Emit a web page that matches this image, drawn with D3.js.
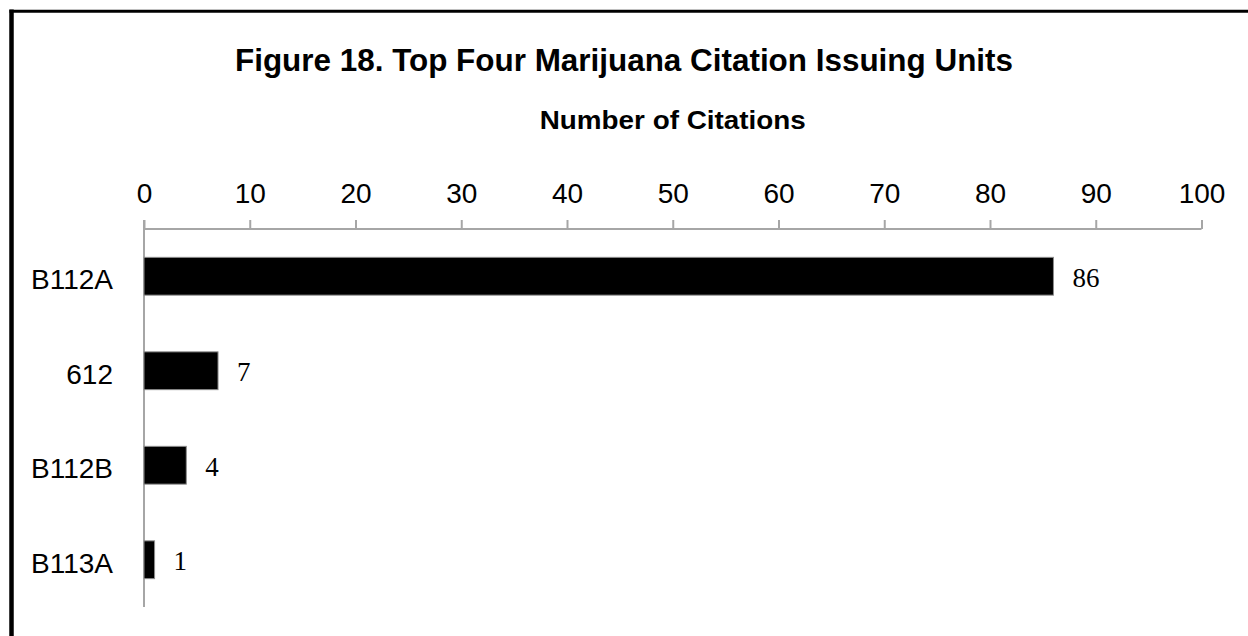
<!DOCTYPE html>
<html>
<head>
<meta charset="utf-8">
<script src="https://cdn.jsdelivr.net/npm/d3@7"></script>
<style>
  html, body { margin: 0; padding: 0; background: #fff; }
  svg { display: block; }
</style>
</head>
<body>
<svg id="chart" width="1248" height="636"></svg>
<script>
const units = ["B112A", "612", "B112B", "B113A"];
const citations = [86, 7, 4, 1];
const tickValues = [0, 10, 20, 30, 40, 50, 60, 70, 80, 90, 100];
const titleText = "Figure 18. Top Four Marijuana Citation Issuing Units";
const axisTitleText = "Number of Citations";

const W = 1248, H = 636;
const margin = { left: 144, right: 46.5, top: 229, bottom: 29 };
const sans = "'Liberation Sans', Arial, sans-serif";
const serif = "'Liberation Serif', 'Times New Roman', serif";

const svg = d3.select("#chart");
svg.append("rect").attr("width", W).attr("height", H).attr("fill", "#fff");

// frame (left and top edges)
svg.append("line").attr("x1", 11.5).attr("x2", 11.5).attr("y1", 9.5).attr("y2", H)
  .attr("stroke", "#000").attr("stroke-width", 4.5);
svg.append("line").attr("x1", 9.5).attr("x2", W).attr("y1", 11.3).attr("y2", 11.3)
  .attr("stroke", "#000").attr("stroke-width", 3);

const x = d3.scaleLinear().domain([0, 100]).range([margin.left, W - margin.right]);
const y = d3.scaleBand().domain(units).range([margin.top, H - margin.bottom]).paddingInner(0.6).paddingOuter(0.3);

// title
svg.append("text").attr("x", 624).attr("y", 71).attr("text-anchor", "middle")
  .attr("font-family", sans).attr("font-weight", "bold").attr("font-size", 31).attr("fill", "#000")
  .attr("textLength", 778).attr("lengthAdjust", "spacingAndGlyphs")
  .text(titleText);

// axis title
svg.append("text").attr("x", (x(0) + x(100)) / 2).attr("y", 129).attr("text-anchor", "middle")
  .attr("font-family", sans).attr("font-weight", "bold").attr("font-size", 25).attr("fill", "#000")
  .attr("textLength", 266).attr("lengthAdjust", "spacingAndGlyphs")
  .text(axisTitleText);

// top axis
const xAxis = d3.axisTop(x).tickValues(tickValues).tickSize(9).tickPadding(17).tickFormat(d3.format("d"));
const gx = svg.append("g").attr("transform", `translate(0,${margin.top})`).call(xAxis);
gx.select(".domain").attr("stroke", "#a6a6a6").attr("stroke-width", 2).attr("d", `M${x(0)},0H${x(100)}`);
gx.selectAll(".tick line").attr("stroke", "#a6a6a6").attr("stroke-width", 2);
gx.selectAll(".tick text").attr("font-family", sans).attr("font-size", 28).attr("fill", "#000");

// left axis (vertical line only)
const yAxis = d3.axisLeft(y).tickSize(0).tickPadding(31);
const gy = svg.append("g").attr("transform", `translate(${margin.left},0)`).call(yAxis);
gy.select(".domain").attr("stroke", "#a6a6a6").attr("stroke-width", 2)
  .attr("d", `M0,${margin.top - 9}V${H - margin.bottom}`);
gy.selectAll(".tick text").attr("font-family", sans).attr("font-size", 28).attr("fill", "#000").attr("dy", "0.47em");

// bars
svg.append("g").selectAll("rect").data(units).join("rect")
  .attr("x", x(0))
  .attr("y", d => y(d))
  .attr("width", (d, i) => x(citations[i]) - x(0))
  .attr("height", y.bandwidth())
  .attr("fill", "#000")
  .attr("stroke", "#8c8c8c").attr("stroke-width", 1);

// value labels
svg.append("g").selectAll("text").data(units).join("text")
  .attr("x", (d, i) => x(citations[i]) + 19)
  .attr("y", d => y(d) + y.bandwidth() / 2)
  .attr("dy", "0.38em")
  .attr("font-family", serif).attr("font-size", 27).attr("fill", "#000")
  .text((d, i) => citations[i]);
</script>
</body>
</html>
